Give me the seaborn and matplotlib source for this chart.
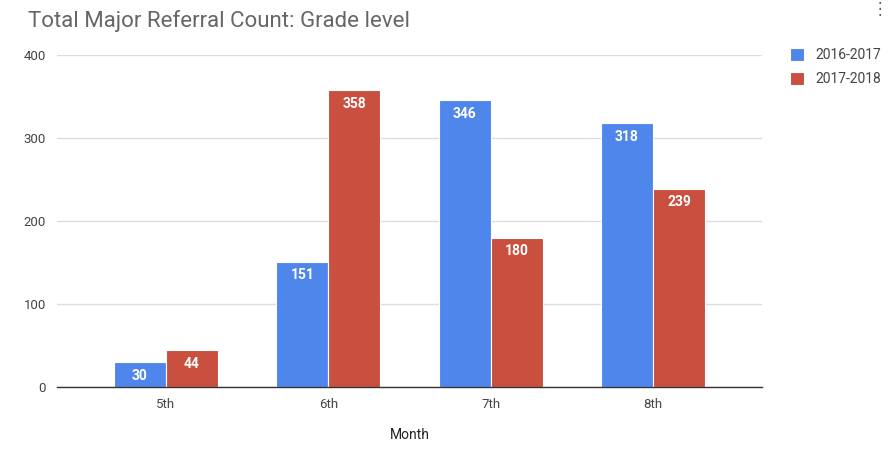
import matplotlib
matplotlib.use("Agg")
import matplotlib.pyplot as plt
import pandas as pd
import seaborn as sns

# datos
grados = ["5th", "6th", "7th", "8th"]
años = ["2016-2017", "2017-2018"]
valores_2016 = [30, 151, 346, 318]
valores_2017 = [44, 358, 180, 239]
colores = ["#4F86EC", "#C94F3F"]

df = pd.DataFrame({
    "Grado": grados * 2,
    "Año": [años[0]] * 4 + [años[1]] * 4,
    "Referidos": valores_2016 + valores_2017,
})

sns.set_style("white")
plt.rcParams["font.family"] = ["Roboto", "DejaVu Sans"]

fig = plt.figure(figsize=(8.92, 4.59), dpi=100)
ax = fig.add_axes([0.064, 0.157, 0.79, 0.723])

sns.barplot(data=df, x="Grado", y="Referidos", hue="Año", palette=colores,
            saturation=1, width=0.64, edgecolor="white", linewidth=0.8,
            ax=ax, legend=True)

# etiquetas dentro de las barras
for cont in ax.containers:
    ax.bar_label(cont, padding=-15, color="white", fontsize=10, fontweight="bold")

ax.set_ylim(0, 400)
ax.set_xlim(-0.67, 3.67)
ax.set_yticks([0, 100, 200, 300, 400])
ax.yaxis.grid(True, color="#DDDDDD", linewidth=1)
ax.set_axisbelow(True)
for s in ["top", "right", "left"]:
    ax.spines[s].set_visible(False)
ax.spines["bottom"].set_color("#333333")
ax.spines["bottom"].set_linewidth(1)
ax.tick_params(axis="both", length=0, labelsize=9.5, labelcolor="#444444", pad=8)
ax.set_ylabel("")
ax.set_xlabel("Month", fontsize=10, color="#222222", labelpad=12)

leg = ax.legend(loc="upper left", bbox_to_anchor=(1.04, 1.02), frameon=False,
                borderpad=0, borderaxespad=0,
                fontsize=10, labelcolor="#444444", handlelength=1.0, handleheight=1.0,
                handletextpad=0.8, labelspacing=0.7)

fig.text(0.031, 0.955, "Total Major Referral Count: Grade level", fontsize=16,
         color="#666666", ha="left", va="center")
fig.text(0.987, 0.98, "⋮", fontsize=12, color="#666666", ha="center", va="center",
         family=["DejaVu Sans"])

fig.savefig("out.png", dpi=100)
